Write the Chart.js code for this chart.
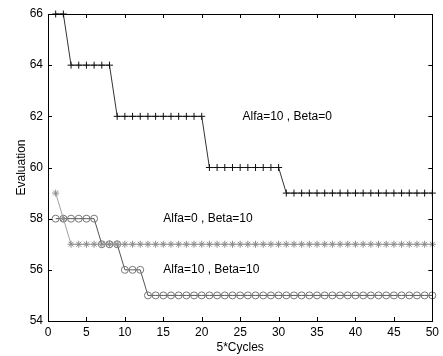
<!DOCTYPE html>
<html>
<head>
<meta charset="utf-8">
<script src="https://cdn.jsdelivr.net/npm/chart.js@4"></script>
<style>
  html, body { margin: 0; padding: 0; background: #fff; }
  canvas { display: block; }
</style>
</head>
<body>
<canvas id="chart" width="443" height="356"></canvas>
<script>
// x values: cycle index
const cycles = [1,2,3,4,5,6,7,8,9,10,11,12,13,14,15,16,17,18,19,20,
                21,22,23,24,25,26,27,28,29,30,31,32,33,34,35,36,37,38,39,40,
                41,42,43,44,45,46,47,48,49,50];

// Alfa=10 , Beta=0  (plus markers)
const alfa10beta0 = [66,66,64,64,64,64,64,64,62,62,62,62,62,62,62,62,62,62,62,62,
                     60,60,60,60,60,60,60,60,60,60,59,59,59,59,59,59,59,59,59,59,
                     59,59,59,59,59,59,59,59,59,59];

// Alfa=0 , Beta=10  (star markers)
const alfa0beta10 = [59,58,57,57,57,57,57,57,57,57,57,57,57,57,57,57,57,57,57,57,
                     57,57,57,57,57,57,57,57,57,57,57,57,57,57,57,57,57,57,57,57,
                     57,57,57,57,57,57,57,57,57,57];

// Alfa=10 , Beta=10  (circle markers)
const alfa10beta10 = [58,58,58,58,58,58,57,57,57,56,56,56,55,55,55,55,55,55,55,55,
                      55,55,55,55,55,55,55,55,55,55,55,55,55,55,55,55,55,55,55,55,
                      55,55,55,55,55,55,55,55,55,55];

const seriesNames = ['Alfa=10 , Beta=0', 'Alfa=0 , Beta=10', 'Alfa=10 , Beta=10'];
const xTicks = [0, 5, 10, 15, 20, 25, 30, 35, 40, 45, 50];
const yTicks = [54, 56, 58, 60, 62, 64, 66];

const FONT = "'Liberation Sans', Arial, sans-serif";

function toPoints(values) {
    return cycles.map((c, i) => ({ x: c, y: values[i] }));
}

// matlab-like box with inward ticks + in-plot text labels
const matlabAxes = {
    id: 'matlabAxes',
    afterDatasetsDraw(chart) {
        const { ctx, chartArea: a, scales: { x, y } } = chart;
        const len = 4;
        ctx.save();
        ctx.strokeStyle = '#000';
        ctx.lineWidth = 1;
        ctx.beginPath();
        xTicks.forEach(t => {
            const px = Math.round(x.getPixelForValue(t)) + 0.5;
            ctx.moveTo(px, a.bottom); ctx.lineTo(px, a.bottom - len);
            ctx.moveTo(px, a.top); ctx.lineTo(px, a.top + len);
        });
        yTicks.forEach(t => {
            const py = Math.round(y.getPixelForValue(t)) + 0.5;
            ctx.moveTo(a.left, py); ctx.lineTo(a.left + len, py);
            ctx.moveTo(a.right, py); ctx.lineTo(a.right - len, py);
        });
        ctx.stroke();
        ctx.strokeRect(Math.round(a.left) + 0.5, Math.round(a.top) + 0.5,
                       Math.round(a.right - a.left), Math.round(a.bottom - a.top));

        // labels placed in data coordinates
        const labelPos = [[25.3, 62], [15, 58], [15, 56]];
        ctx.fillStyle = '#000';
        ctx.font = '12px ' + FONT;
        ctx.textBaseline = 'middle';
        ctx.textAlign = 'left';
        seriesNames.forEach((txt, i) => {
            ctx.fillText(txt, x.getPixelForValue(labelPos[i][0]), y.getPixelForValue(labelPos[i][1]));
        });
        ctx.restore();
    }
};

new Chart(document.getElementById('chart'), {
    type: 'line',
    data: {
        datasets: [
            {
                label: seriesNames[1],
                data: toPoints(alfa0beta10),
                borderColor: '#a0a0a0',
                borderWidth: 1,
                pointStyle: 'star',
                pointRadius: 3.5,
                pointBorderColor: '#8c8c8c',
                pointBorderWidth: 1,
                pointBackgroundColor: 'transparent',
                tension: 0,
                clip: false
            },
            {
                label: seriesNames[2],
                data: toPoints(alfa10beta10),
                borderColor: '#555',
                borderWidth: 1,
                pointStyle: 'circle',
                pointRadius: 3.5,
                pointBorderColor: '#777',
                pointBorderWidth: 1,
                pointBackgroundColor: 'transparent',
                tension: 0,
                clip: false
            },
            {
                label: seriesNames[0],
                data: toPoints(alfa10beta0),
                borderColor: '#333',
                borderWidth: 1,
                pointStyle: 'cross',
                pointRadius: 3.5,
                pointBorderColor: '#111',
                pointBorderWidth: 1,
                tension: 0,
                clip: false
            }
        ]
    },
    options: {
        responsive: false,
        devicePixelRatio: 1,
        animation: false,
        layout: { padding: { top: 14, right: 5, left: 0, bottom: 0 } },
        plugins: {
            legend: { display: false },
            tooltip: { enabled: false }
        },
        scales: {
            x: {
                type: 'linear',
                min: 0,
                max: 50,
                afterFit: s => { s.height = 35; },
                afterBuildTicks: s => { s.ticks = xTicks.map(v => ({ value: v })); },
                grid: { display: false, drawTicks: false },
                border: { display: false },
                ticks: { color: '#000', padding: 4, maxRotation: 0, font: { family: FONT, size: 12 } },
                title: {
                    display: true,
                    text: '5*Cycles',
                    color: '#000',
                    font: { family: FONT, size: 12 },
                    padding: { top: 0, bottom: 1 }
                }
            },
            y: {
                type: 'linear',
                min: 54,
                max: 66,
                afterFit: s => { s.width = 48; },
                afterBuildTicks: s => { s.ticks = yTicks.map(v => ({ value: v })); },
                grid: { display: false, drawTicks: false },
                border: { display: false },
                ticks: { color: '#000', padding: 5, font: { family: FONT, size: 12 } },
                title: {
                    display: true,
                    text: 'Evaluation',
                    color: '#000',
                    font: { family: FONT, size: 12 },
                    padding: { top: 14, bottom: 0 }
                }
            }
        }
    },
    plugins: [matlabAxes]
});
</script>
</body>
</html>
